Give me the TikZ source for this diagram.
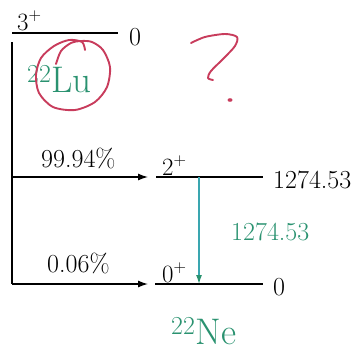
\documentclass[tikz,border=0pt]{standalone}
\usetikzlibrary{arrows.meta}
\definecolor{nucgreen}{HTML}{2A9270}
\definecolor{gline}{HTML}{3AA6B0}
\definecolor{inkred}{HTML}{C83C5C}
\begin{document}
\begin{tikzpicture}[x=1pt,y=-1pt,
  lvl/.style={line width=1.3pt},
  lab/.style={inner sep=0pt, font=\fontsize{26}{30}\selectfont},
  nuc/.style={inner sep=0pt, text=nucgreen, font=\fontsize{37}{42}\selectfont},
  feed/.style={line width=1.3pt, -{Latex[length=10pt,width=7pt]}},
  gam/.style={draw=gline, line width=1.2pt, -{Latex[length=9pt,width=6pt,color=nucgreen]}},
  penstroke/.style={draw=inkred, line width=1.9pt, line cap=round, line join=round}]
\useasboundingbox (0,0) rectangle (356,351);
% parent level
\coordinate (p0a) at (12,33);
\coordinate (p0b) at (118,33);
\draw[lvl] (p0a) -- (p0b);
\node[lab, anchor=base west] (jp) at (17,30) {$3^+$};
\node[lab, anchor=west] (e0) at (129,37) {0};
\node[nuc, anchor=base west] (lu) at (27,92) {\textsuperscript{22}Lu};
% feeding branch
\coordinate (vt) at (12,42);
\coordinate (vm) at (12,177);
\coordinate (vb) at (12,284);
\draw[lvl] (vt) -- (vb);
\coordinate (t2) at (148,177);
\coordinate (t0) at (148,284);
\draw[feed] (vm) -- (t2);
\draw[feed] (vb) -- (t0);
\node[lab, anchor=base west] (b1) at (41,167) {99.94\%};
\node[lab, anchor=base west] (b2) at (47,272) {0.06\%};
% daughter levels
\coordinate (l2a) at (156,177);
\coordinate (l2b) at (263,177);
\coordinate (l0a) at (155,284);
\coordinate (l0b) at (263,284);
\draw[lvl] (l2a) -- (l2b);
\draw[lvl] (l0a) -- (l0b);
\node[lab, anchor=base west] (j2) at (162,175) {$2^+$};
\node[lab, anchor=base west] (j0) at (162,282) {$0^+$};
\node[lab, anchor=west] (e2) at (273,180) {1274.53};
\node[lab, anchor=west] (e00) at (273,287) {0};
% gamma
\coordinate (g1) at (199,177);
\coordinate (g2) at (199,284);
\draw[gam] (g1) -- (g2);
\node[lab, text=nucgreen, anchor=base west] (eg) at (231,240) {1274.53};
\node[nuc, anchor=base west] (ne) at (171,344) {\textsuperscript{22}Ne};
% handwritten marks
\draw[penstroke] plot[smooth] coordinates {(56,64) (61,51) (71,43) (81,41) (92,42) (103,50) (110,67) (107,87) (95,102) (75,110) (53,107) (39,93) (36,75) (41,58) (54,46) (69,40) (82,42) (85,50)};
\draw[penstroke] plot[smooth] coordinates {(191,43) (205,37) (225,34) (237,37) (235,46) (224,58) (211,71) (208,78) (213,80)};
\fill[inkred] (230,100) ellipse (2.5 and 1.8);
\end{tikzpicture}
\end{document}
